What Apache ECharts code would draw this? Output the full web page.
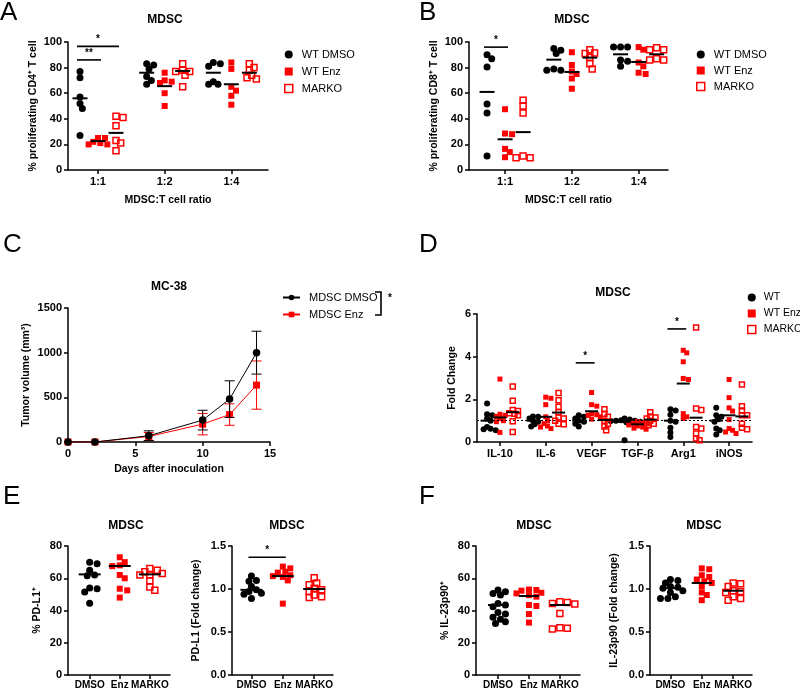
<!DOCTYPE html>
<html><head><meta charset="utf-8">
<script src="https://cdn.jsdelivr.net/npm/echarts@6.0.0/dist/echarts.min.js"></script>
<style>html,body{margin:0;padding:0;background:#fff}#main{width:800px;height:690px}</style>
</head><body><div id="main"></div>
<script>
// ================= DATA =================
// Panel A (CD4+)
const ratioCats = ['1:1', '1:2', '1:4'];
const aDmso  = [[77, 72, 57, 52, 48, 27], [83, 82, 79, 73, 70, 67], [84, 83, 81, 69, 67, 67]];
const aEnz   = [[25, 25, 22, 21, 20, 20], [76, 70, 69, 68, 60, 50], [84, 79, 65, 62, 58, 51]];
const aMarko = [[42, 41, 34.5, 23, 21, 15], [83, 78, 77, 77, 74, 65], [83, 80, 78, 74, 72, 71]];
const aDmsoLine = [56, 76, 76], aEnzLine = [22.6, 65.5, 67], aMarkoLine = [29, 77.4, 76];
const aSig = [[0, 0, 1, 86, '**'], [0, 0, 2, 96.6, '*']]; // [category, fromGroup, toGroup, y, label]
// Panel B (CD8+)
const bDmso  = [[90, 87, 80.5, 51.5, 44.5, 11], [95, 93.5, 91, 79, 78, 78], [96, 96, 96, 86, 85, 81]];
const bEnz   = [[47.5, 28.5, 28, 16.5, 14, 10], [92, 82, 77, 75, 71.5, 63.5], [96, 94, 84, 81, 76, 75]];
const bMarko = [[54.5, 50, 44.5, 11, 9.5, 9.5], [94, 91.5, 91, 88, 83, 79], [95.5, 94, 94, 87, 86, 86]];
const bDmsoLine = [61, 86.2, 90.4], bEnzLine = [24, 76.6, 84.4], bMarkoLine = [29.6, 87.8, 90.4];
const bSig = [[0, 0, 1, 96, '*']];
// Panel C (tumor growth)
const cDays = [0, 2, 6, 10, 12, 14];
const cDmso = [0, 0, 70, 245, 480, 1000];
const cDmsoErr = [0, 0, 55, 110, 205, 240];
const cEnz = [0, 0, 62, 200, 307, 637];
const cEnzErr = [0, 0, 45, 120, 120, 270];
// Panel D (fold change)
const geneCats = ['IL-10', 'IL-6', 'VEGF', 'TGF-β', 'Arg1', 'iNOS'];
const dWt = [[1.8, 1.3, 1.25, 1.1, 1.0, 0.7, 0.6, 0.55, 0.62], [1.2, 1.18, 1.1, 1.0, 0.95, 0.83, 0.73],
  [1.25, 1.18, 1.1, 1.0, 0.95, 0.86, 0.73], [1.1, 1.05, 1.02, 1.0, 1.0, 0.98, 0.95, 0.92, 0.08],
  [1.53, 1.48, 1.28, 1.0, 0.95, 0.67, 0.44, 0.23], [1.6, 1.25, 1.18, 1.07, 0.95, 0.63, 0.55, 0.35]];
const dEnz = [[2.95, 1.3, 1.25, 1.2, 1.1, 1.0, 0.95, 0.45], [2.1, 2.05, 1.75, 1.18, 1.0, 0.86, 0.75, 0.7, 0.63],
  [2.32, 1.75, 1.68, 1.33, 1.28, 1.25, 1.18, 1.07], [0.95, 0.9, 0.88, 0.85, 0.8, 0.75, 0.7, 0.65, 0.6],
  [4.3, 4.18, 3.76, 2.98, 2.93, 1.33, 1.18, 1.1], [2.93, 2.08, 1.6, 1.45, 1.05, 0.63, 0.55, 0.47, 0.4]];
const dMarko = [[2.6, 1.93, 1.5, 1.45, 1.35, 1.33, 1.25, 0.97, 0.47], [2.3, 1.96, 1.65, 1.4, 1.15, 1.1, 1.0, 0.86, 0.83],
  [1.53, 1.33, 1.18, 1.0, 0.86, 0.73, 0.55], [1.4, 1.2, 1.15, 1.1, 1.0, 0.85, 0.78],
  [5.37, 1.57, 1.5, 0.7, 0.63, 0.4, 0.16, 0.08], [2.7, 1.68, 1.48, 1.25, 1.25, 0.86, 0.67, 0.6]];
const dWtLine = [1.0, 1.0, 1.0, 0.95, 1.0, 1.0], dEnzLine = [1.15, 1.18, 1.44, 0.83, 2.74, 1.25], dMarkoLine = [1.4, 1.38, 1.03, 1.05, 1.14, 1.2];
const dSig = [[2, 0, 1, 3.71, '*'], [4, 0, 1, 5.3, '*']];
const dRef = 1;
// Panel E
const trtCats = ['DMSO', 'Enz', 'MARKO'];
const e1Vals = [[70, 69, 65, 62, 61.5, 54, 53.5, 51.5, 44.5], [73, 70, 68, 67.5, 62, 60, 53.5, 52.5, 48], [66, 65, 64, 63, 62, 62, 58.5, 54.5, 52.5]];
const e1Line = [62.4, 67.6, 62.4];
const e2Vals = [[1.15, 1.1, 1.09, 1.03, 0.99, 0.97, 0.95, 0.94, 0.89], [1.26, 1.24, 1.2, 1.19, 1.16, 1.15, 1.14, 1.1, 0.83], [1.13, 1.07, 1.05, 1.01, 0.99, 0.97, 0.93, 0.91, 0.9]];
const e2Line = [0.99, 1.15, 1.0];
const e2Sig = [[0, 1, 1.37, '*']];
// Panel F
const f1Vals = [[52.7, 51.7, 50.6, 49.6, 44.4, 43.4, 42.4, 38.7, 37.8, 35.8, 34.5, 33, 32], [53, 52.7, 52.3, 51, 50.6, 49.5, 48.6, 43.4, 42.8, 37.8, 32.5], [45.5, 44.9, 44.4, 44, 38.2, 29.3, 29, 28.5]];
const f1Line = [43.4, 49, 43.4];
const f2Vals = [[1.11, 1.1, 1.07, 1.03, 1.02, 1.01, 0.98, 0.96, 0.91, 0.89, 0.89], [1.24, 1.23, 1.16, 1.14, 1.11, 1.09, 1.07, 1.03, 0.96, 0.93, 0.87], [1.07, 1.06, 1.03, 0.98, 0.97, 0.96, 0.91, 0.89, 0.87]];
const f2Line = [1.01, 1.07, 0.98];

// ================= STYLE / BUILD =================
const FONT = '"Liberation Sans", Arial, sans-serif';
const RED = '#ff0000';
const grids = [], xAxes = [], yAxes = [], series = [];
const ST_DMSO = { symbol: 'circle', itemStyle: { color: '#000', opacity: 1 } };
const ST_ENZ = { symbol: 'rect', itemStyle: { color: RED, opacity: 1 } };
const ST_MARKO = { symbol: 'rect', itemStyle: { color: 'rgba(255,255,255,0)', borderColor: RED, borderWidth: 1.5, opacity: 1 } };

function txt(size, bold) { return { fontFamily: FONT, fontWeight: bold ? 'bold' : 'normal', fontSize: size, color: '#000' }; }
const AXL = { show: true, onZero: false, lineStyle: { color: '#000', width: 1.5 } };
const TICK = { show: true, length: 4, lineStyle: { color: '#000', width: 1.5 } };

// compact beeswarm layout (pixel-space collision avoidance)
function swarm(vals, cx, pxX, pxY, d) {
  const order = vals.map((v, i) => i).sort((a, b) => vals[b] - vals[a]);
  const placed = [], out = [];
  const step = d * 0.45;
  for (const i of order) {
    const py = vals[i] * pxY; let off = 0;
    for (let k = 0; k < 80; k++) {
      const o = k === 0 ? 0 : (k % 2 ? 1 : -1) * Math.ceil(k / 2) * step;
      if (!placed.some(p => Math.hypot(p[0] - o, p[1] - py) < d)) { off = o; break; }
    }
    placed.push([off, py]); out.push([cx + off / pxX, vals[i]]);
  }
  return out;
}

function yAxisCfg(gi, c) {
  return { gridIndex: gi, type: 'value', min: c.ymin, max: c.ymax, interval: c.interval,
    name: c.yname, nameLocation: 'middle', nameGap: c.ynameGap, nameRotate: 90, nameTextStyle: txt(10.5, true),
    axisLine: AXL, axisTick: TICK,
    axisLabel: Object.assign({ margin: 6, formatter: c.yfmt || (v => String(v)) }, txt(11, true)),
    splitLine: { show: false } };
}

function sigSeries(gi, items) {
  return { type: 'custom', xAxisIndex: gi, yAxisIndex: gi, silent: true, z: 12, clip: false,
    data: items.map(s => [s[0], s[1], s[2]]),
    renderItem: (params, api) => {
      const p1 = api.coord([api.value(0), api.value(2)]);
      const p2 = api.coord([api.value(1), api.value(2)]);
      const lab = items[params.dataIndex][3];
      return { type: 'group', children: [
        { type: 'line', shape: { x1: p1[0] - 3, y1: p1[1], x2: p2[0] + 3, y2: p2[1] }, style: { stroke: '#000', lineWidth: 1.6 } },
        { type: 'text', x: (p1[0] + p2[0]) / 2, y: p1[1] - 2,
          style: { text: lab, fill: '#000', font: 'bold 10px ' + FONT, textAlign: 'center', textVerticalAlign: 'bottom', align: 'center', verticalAlign: 'bottom' } }
      ] };
    } };
}

function buildDot(c) {
  const gi = grids.length;
  grids.push({ left: c.left, top: c.top, width: c.width, height: c.height });
  const idx = c.cats.map((_, i) => i);
  xAxes.push({ gridIndex: gi, type: 'value', min: c.xmin, max: c.xmax,
    name: c.xname || '', nameLocation: 'middle', nameGap: c.xnameGap || 20, nameTextStyle: txt(10.5, true),
    axisLine: AXL, axisTick: Object.assign({ customValues: idx }, TICK),
    axisLabel: Object.assign({ customValues: idx, margin: c.xmargin || 6, formatter: v => c.cats[Math.round(v)] || '' }, txt(c.xfs || 11, true)),
    splitLine: { show: false } });
  yAxes.push(yAxisCfg(gi, c));
  const pxX = c.width / (c.xmax - c.xmin), pxY = c.height / (c.ymax - c.ymin);
  c.groups.forEach((g, k) => {
    const pts = [];
    g.values.forEach((vals, ci) => swarm(vals, ci + g.offset, pxX, pxY, c.marker * c.pack).forEach(p => pts.push(p)));
    const s = { type: 'scatter', name: g.name, xAxisIndex: gi, yAxisIndex: gi, data: pts, symbol: g.style.symbol,
      symbolSize: g.style.symbol === 'circle' ? c.marker + 0.5 : c.marker - 0.5, itemStyle: g.style.itemStyle, z: 3 + k, silent: true };
    if (k === 0 && c.refLine != null) {
      s.markLine = { silent: true, symbol: 'none', label: { show: false }, animation: false,
        lineStyle: { type: [2, 2], color: '#000', width: 1.2, opacity: 1 }, data: [{ yAxis: c.refLine }] };
    }
    series.push(s);
    series.push({ type: 'scatter', name: '_line', xAxisIndex: gi, yAxisIndex: gi, data: g.line.map((v, ci) => [ci + g.offset, v]),
      symbol: 'rect', symbolSize: [c.lineW, 2], itemStyle: { color: '#000', opacity: 1 }, z: 10, silent: true });
  });
  if (c.sig) {
    const offs = c.groups.map(g => g.offset);
    series.push(sigSeries(gi, c.sig.map(s => s.length === 5 ? [s[0] + offs[s[1]], s[0] + offs[s[2]], s[3], s[4]] : [s[0], s[1], s[2], s[3]])));
  }
}

// Panel A
buildDot({ left: 68, top: 42, width: 200, height: 128, xmin: -0.45, xmax: 2.55, cats: ratioCats,
  ymin: 0, ymax: 100, interval: 20, yname: '% proliferating CD4⁺ T cell', ynameGap: 29,
  xname: 'MDSC:T cell ratio', xnameGap: 25, marker: 6.5, pack: 0.8, lineW: 15,
  groups: [{ name: 'WT DMSO', values: aDmso, line: aDmsoLine, offset: -0.27, style: ST_DMSO },
           { name: 'WT Enz', values: aEnz, line: aEnzLine, offset: 0, style: ST_ENZ },
           { name: 'MARKO', values: aMarko, line: aMarkoLine, offset: 0.27, style: ST_MARKO }],
  sig: aSig });
// Panel B
buildDot({ left: 469, top: 42, width: 199, height: 128, xmin: -0.54, xmax: 2.44, cats: ratioCats,
  ymin: 0, ymax: 100, interval: 20, yname: '% proliferating CD8⁺ T cell', ynameGap: 29,
  xname: 'MDSC:T cell ratio', xnameGap: 25, marker: 6.5, pack: 0.8, lineW: 15,
  groups: [{ name: 'WT DMSO', values: bDmso, line: bDmsoLine, offset: -0.27, style: ST_DMSO },
           { name: 'WT Enz', values: bEnz, line: bEnzLine, offset: 0, style: ST_ENZ },
           { name: 'MARKO', values: bMarko, line: bMarkoLine, offset: 0.27, style: ST_MARKO }],
  sig: bSig });

// Panel C
(function () {
  const gi = grids.length;
  grids.push({ left: 68, top: 308, width: 202, height: 134 });
  xAxes.push({ gridIndex: gi, type: 'value', min: 0, max: 15, interval: 5, name: 'Days after inoculation',
    nameLocation: 'middle', nameGap: 22, nameTextStyle: txt(10.5, true), axisLine: AXL, axisTick: TICK,
    axisLabel: Object.assign({ margin: 6 }, txt(11, true)), splitLine: { show: false } });
  yAxes.push(yAxisCfg(gi, { ymin: 0, ymax: 1500, interval: 500, yname: 'Tumor volume (mm³)', ynameGap: 36 }));
  const errBar = (mean, err, color) => ({ type: 'custom', xAxisIndex: gi, yAxisIndex: gi, silent: true, clip: false,
    z: color === '#000' ? 6 : 4,
    data: cDays.map((d, i) => [d, mean[i] - err[i], mean[i] + err[i]]).filter((r, i) => err[i] > 0),
    renderItem: (params, api) => {
      const x = api.value(0);
      const t = api.coord([x, api.value(2)]), b = api.coord([x, api.value(1)]);
      const st = { stroke: color, lineWidth: 1 };
      return { type: 'group', children: [
        { type: 'line', shape: { x1: t[0], y1: t[1], x2: b[0], y2: b[1] }, style: st },
        { type: 'line', shape: { x1: t[0] - 5, y1: t[1], x2: t[0] + 5, y2: t[1] }, style: st },
        { type: 'line', shape: { x1: b[0] - 5, y1: b[1], x2: b[0] + 5, y2: b[1] }, style: st }] };
    } });
  series.push(errBar(cEnz, cEnzErr, RED));
  series.push({ type: 'line', name: 'MDSC Enz', xAxisIndex: gi, yAxisIndex: gi, data: cDays.map((d, i) => [d, cEnz[i]]),
    symbol: 'rect', symbolSize: 7, itemStyle: { color: RED }, lineStyle: { color: RED, width: 1 }, z: 5, silent: true });
  series.push(errBar(cDmso, cDmsoErr, '#000'));
  series.push({ type: 'line', name: 'MDSC DMSO', xAxisIndex: gi, yAxisIndex: gi, data: cDays.map((d, i) => [d, cDmso[i]]),
    symbol: 'circle', symbolSize: 7.5, itemStyle: { color: '#000' }, lineStyle: { color: '#000', width: 1 }, z: 7, silent: true });
})();

// Panel D
buildDot({ left: 477, top: 314, width: 275, height: 128, xmin: -0.5, xmax: 5.5, cats: geneCats,
  ymin: 0, ymax: 6, interval: 2, yname: 'Fold Change', ynameGap: 19, marker: 5.5, pack: 0.7, lineW: 13, refLine: dRef,
  groups: [{ name: 'WT', values: dWt, line: dWtLine, offset: -0.28, style: ST_DMSO },
           { name: 'WT Enz', values: dEnz, line: dEnzLine, offset: 0, style: ST_ENZ },
           { name: 'MARKO', values: dMarko, line: dMarkoLine, offset: 0.28, style: ST_MARKO }],
  sig: dSig });

// Panels E and F (one group per category)
function triple(vals, line, tag) {
  return [
    { name: tag + '_d', values: [vals[0], [], []], line: [line[0], NaN, NaN], offset: 0, style: ST_DMSO },
    { name: tag + '_e', values: [[], vals[1], []], line: [NaN, line[1], NaN], offset: 0, style: ST_ENZ },
    { name: tag + '_m', values: [[], [], vals[2]], line: [NaN, NaN, line[2]], offset: 0, style: ST_MARKO }];
}
const fmt1 = v => v.toFixed(1);
buildDot({ left: 68, top: 546, width: 102, height: 129, xmin: -0.72, xmax: 2.67, cats: trtCats, xfs: 10, xmargin: 5,
  ymin: 0, ymax: 80, interval: 20, yname: '% PD-L1⁺', ynameGap: 25, marker: 6.5, pack: 0.85, lineW: 22,
  groups: triple(e1Vals, e1Line, 'e1') });
buildDot({ left: 232, top: 546, width: 101, height: 129, xmin: -0.62, xmax: 2.6, cats: trtCats, xfs: 10, xmargin: 5,
  ymin: 0, ymax: 1.5, interval: 0.5, yfmt: fmt1, yname: 'PD-L1 (Fold change)', ynameGap: 30, marker: 6.5, pack: 0.85, lineW: 22,
  groups: triple(e2Vals, e2Line, 'e2'), sig: e2Sig });
buildDot({ left: 476, top: 546, width: 104, height: 129, xmin: -0.71, xmax: 2.65, cats: trtCats, xfs: 10, xmargin: 5,
  ymin: 0, ymax: 80, interval: 20, yname: '% IL-23p90⁺', ynameGap: 25, marker: 6.5, pack: 0.85, lineW: 20,
  groups: triple(f1Vals, f1Line, 'f1') });
buildDot({ left: 650, top: 546, width: 102, height: 129, xmin: -0.65, xmax: 2.6, cats: trtCats, xfs: 10, xmargin: 5,
  ymin: 0, ymax: 1.5, interval: 0.5, yfmt: fmt1, yname: 'IL-23p90 (Fold change)', ynameGap: 30, marker: 6.5, pack: 0.85, lineW: 20,
  groups: triple(f2Vals, f2Line, 'f2') });

// Legends
const legTxt = Object.assign({ padding: [0, 0, 0, 4] }, txt(11, false));
const legTxtD = Object.assign({ padding: [0, 0, 0, 3] }, txt(10.5, false));
const dotLegendData = n => [
  { name: n[0], icon: 'circle', itemStyle: { color: '#000', opacity: 1 } },
  { name: n[1], icon: 'rect', itemStyle: { color: RED, opacity: 1 } },
  { name: n[2], icon: 'rect', itemStyle: { color: 'rgba(255,255,255,0)', borderColor: RED, borderWidth: 1.5, opacity: 1 } }];
const legends = [
  { left: 279, top: 44, orient: 'vertical', itemWidth: 8, itemHeight: 8, itemGap: 6, selectedMode: false, textStyle: legTxt, data: dotLegendData(['WT DMSO', 'WT Enz', 'MARKO']) },
  { left: 691, top: 44, orient: 'vertical', itemWidth: 8, itemHeight: 8, itemGap: 5, selectedMode: false, textStyle: legTxt, data: dotLegendData(['WT DMSO', 'WT Enz', 'MARKO']) },
  { left: 277, top: 287, orient: 'vertical', itemWidth: 17, itemHeight: 7, itemGap: 6, selectedMode: false, textStyle: legTxt, data: ['MDSC DMSO', 'MDSC Enz'] },
  { left: 742, top: 287, orient: 'vertical', itemWidth: 8, itemHeight: 8, itemGap: 5, selectedMode: false, textStyle: legTxtD, data: dotLegendData(['WT', 'WT Enz', 'MARKO']) }
];

// Titles and panel letters
const T = (text, x, y, size, bold) => ({ type: 'text', x, y, silent: true,
  style: { text, fill: '#000', font: (bold ? 'bold ' : '') + size + 'px ' + FONT, textAlign: 'center', textVerticalAlign: 'middle', align: 'center', verticalAlign: 'middle' } });
const L = (text, x, y) => ({ type: 'text', x, y, silent: true,
  style: { text, fill: '#000', font: '26px ' + FONT, textAlign: 'left', textVerticalAlign: 'top', align: 'left', verticalAlign: 'top' } });
const graphics = [
  L('A', 0, 0), L('B', 419, 0), L('C', 3, 232), L('D', 419, 232), L('E', 3, 484), L('F', 419, 484),
  T('MDSC', 165, 20, 12, true), T('MDSC', 572, 20, 12, true), T('MC-38', 169, 287, 12, true), T('MDSC', 613, 293, 12, true),
  T('MDSC', 126, 526, 12, true), T('MDSC', 287, 526, 12, true), T('MDSC', 534, 526, 12, true), T('MDSC', 704, 526, 12, true),
  { type: 'polyline', silent: true, shape: { points: [[375, 292], [381, 292], [381, 315], [375, 315]] }, style: { stroke: '#000', lineWidth: 1.6, fill: null } },
  { type: 'text', x: 390, y: 298, silent: true, style: { text: '*', fill: '#000', font: 'bold 10px ' + FONT, textAlign: 'center', textVerticalAlign: 'middle', align: 'center', verticalAlign: 'middle' } }
];

const chart = echarts.init(document.getElementById('main'));
chart.setOption({
  animation: false,
  backgroundColor: '#fff',
  grid: grids, xAxis: xAxes, yAxis: yAxes, series, legend: legends, graphic: graphics
});
</script>
</body></html>
